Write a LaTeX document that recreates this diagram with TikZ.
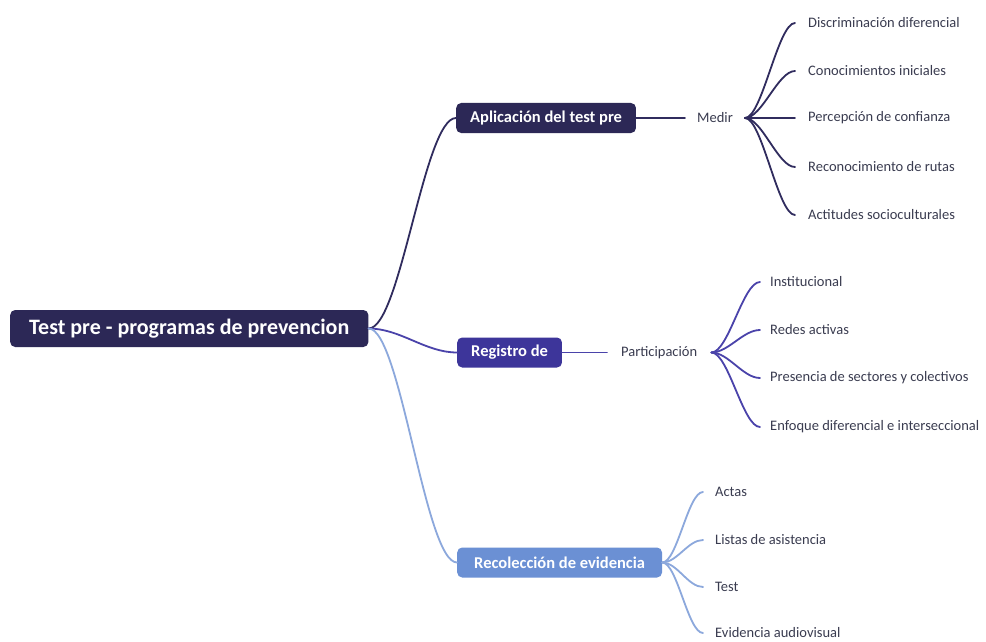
\documentclass[tikz,border=0pt]{standalone}
\usepackage{fontspec}
\setmainfont{Carlito}
\usetikzlibrary{calc}

\definecolor{navy}{HTML}{2C2856}
\definecolor{violet}{HTML}{3D359A}
\definecolor{sky}{HTML}{6B90D4}
\definecolor{navyline}{HTML}{302C5E}
\definecolor{violetline}{HTML}{4A43AA}
\definecolor{skyline}{HTML}{8CA8DC}
\definecolor{leaftext}{HTML}{3A3C50}

\tikzset{
  rootbox/.style={fill=navy, rounded corners=5pt, text=white,
    font=\fontsize{22}{24}\selectfont\bfseries, minimum height=37pt,
    inner xsep=19pt, anchor=west},
  topicbox/.style={rounded corners=5pt, text=white,
    font=\fontsize{16.5}{18}\selectfont\bfseries, minimum height=30pt,
    inner xsep=14pt, anchor=west},
  leaf/.style={text=leaftext, font=\fontsize{14.5}{16}\selectfont,
    anchor=west, inner ysep=2pt},
  branch/.style={line width=1.8pt, line cap=round},
}

\begin{document}
\begin{tikzpicture}[x=1pt,y=-1pt]
  \useasboundingbox (0,0) rectangle (986,642);
  \fill[white] (0,0) rectangle (986,642);

  % central topic
  \node[rootbox] (root) at (10,328.5) {Test pre - programas de prevencion};

  % main topics
  \node[topicbox, fill=navy]   (apl) at (456,118)   {Aplicación del test pre};
  \node[topicbox, fill=violet] (reg) at (457,352.5) {Registro de};
  \node[topicbox, fill=sky, inner xsep=17pt] (rec) at (457,562.5) {Recolección de evidencia};

  % branches from the central topic
  \draw[branch, navyline] (root.east) .. controls ($(root.east)+(32,0)$) and ($(apl.west)-(32,0)$) .. (apl.west);
  \draw[branch, violetline] (root.east) .. controls ($(root.east)+(32,0)$) and ($(reg.west)-(32,0)$) .. (reg.west);
  \draw[branch, skyline] (root.east) .. controls ($(root.east)+(32,0)$) and ($(rec.west)-(32,0)$) .. (rec.west);

  % Medir and its subtopics
  \node[leaf, inner xsep=12pt] (medir) at (685,118) {Medir};
  \draw[branch, navyline] (apl.east) -- (medir.west);
  \foreach \n/\y/\t in {m1/23/Discriminación diferencial,
                        m2/71/Conocimientos iniciales,
                        m3/118/Percepción de confianza,
                        m4/167/Reconocimiento de rutas,
                        m5/215/Actitudes socioculturales}{
    \node[leaf, inner xsep=13pt] (\n) at (795,\y) {\t};
    \draw[branch, navyline] (medir.east) .. controls ($(medir.east)+(17,0)$) and ($(\n.west)-(17,0)$) .. (\n.west);
  }

  % Participación and its subtopics
  \node[leaf, inner xsep=14pt] (part) at (607,352.5) {Participación};
  \draw[branch, violetline] (reg.east) -- (part.west);
  \foreach \n/\y/\t in {p1/282/Institucional,
                        p2/330/Redes activas,
                        p3/378/Presencia de sectores y colectivos,
                        p4/427/Enfoque diferencial e interseccional}{
    \node[leaf, inner xsep=10pt] (\n) at (760,\y) {\t};
    \draw[branch, violetline] (part.east) .. controls ($(part.east)+(17,0)$) and ($(\n.west)-(17,0)$) .. (\n.west);
  }

  % evidence subtopics
  \foreach \n/\y/\t in {e1/492/Actas,
                        e2/540/Listas de asistencia,
                        e3/587/Test,
                        e4/633/Evidencia audiovisual}{
    \node[leaf, inner xsep=12pt] (\n) at (703,\y) {\t};
    \draw[branch, skyline] (rec.east) .. controls ($(rec.east)+(15,0)$) and ($(\n.west)-(15,0)$) .. (\n.west);
  }
\end{tikzpicture}
\end{document}
